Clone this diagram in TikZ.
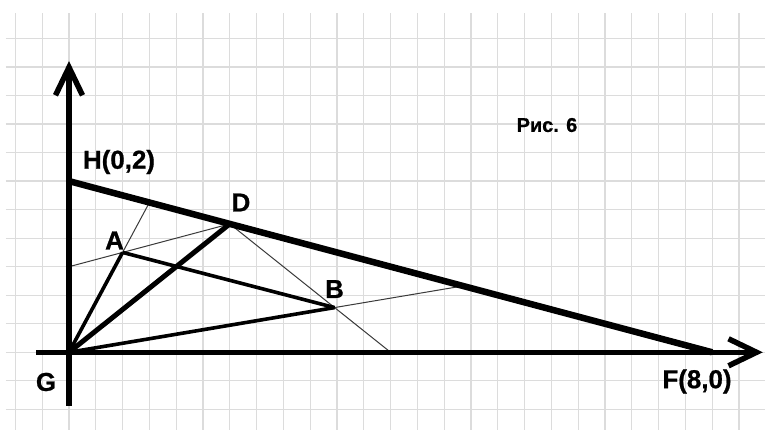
\documentclass[tikz,border=0pt]{standalone}
\usepackage{fontspec}
\setmainfont{Liberation Sans}
\newfontfamily\markfont{Liberation Sans}[BoldFeatures={FakeBold=0.8}]
\usepackage{xcolor}
\definecolor{gridgray}{HTML}{DCDCDC}
\definecolor{thinink}{HTML}{3A3A3A}
\usetikzlibrary{arrows.meta}

\begin{document}
\begin{tikzpicture}[
  x=80.4bp, y=85.6bp,
  gridline/.style={gridgray,line width=1.3bp},
  axis/.style={line width=5.5bp,-{Straight Barb[length=28bp,width=27bp]}},
  side/.style={line width=6.5bp},
  heavy/.style={line width=5bp},
  mid/.style={line width=3.6bp},
  hairline/.style={thinink,line width=1bp},
  lbl/.style={inner sep=0pt,font=\markfont\bfseries\fontsize{26}{26}\selectfont},
  figcap/.style={inner sep=0pt,font=\markfont\bfseries\fontsize{20}{20}\selectfont}
]
  \useasboundingbox (-69bp,-77.7bp) rectangle (696bp,352.3bp);
  \fill[white] (-69bp,-77.7bp) rectangle (696bp,352.3bp);

  \foreach \i in {-2,...,25}
    \draw[gridline] (\i/3,-0.91) -- (\i/3,3.964);
  \foreach \j in {-2,...,11}
    \draw[gridline] (-0.784,\j/3) -- (8.66,\j/3);

  \coordinate (G) at (0,0);
  \coordinate (H) at (0,2);
  \coordinate (F) at (8,0);
  \coordinate (D) at (2,1.5);
  \coordinate (L) at (0,1);
  \coordinate (M) at (4,0);
  \coordinate (Q) at (1,1.75);
  \coordinate (P) at (4.9,0.775);
  \coordinate (A) at (intersection of G--Q and L--D);
  \coordinate (B) at (intersection of G--P and D--M);
  \coordinate (xs) at (-0.41,0);
  \coordinate (xe) at (8.63,0);
  \coordinate (ys) at (0,-0.627);
  \coordinate (ye) at (0,3.403);

  \draw[hairline] (L) -- (D);
  \draw[hairline] (A) -- (Q);
  \draw[hairline] (D) -- (M);
  \draw[hairline] (B) -- (P);

  \draw[side] (H) -- (F);
  \draw[heavy] (G) -- (D);
  \draw[mid] (G) -- (A);
  \draw[mid] (A) -- (B);
  \draw[mid] (G) -- (B);

  \draw[axis] (xs) -- (xe);
  \draw[axis] (ys) -- (ye);

  \node[lbl] (lblH) at (0.622,2.223) {H(0,2)};
  \node[lbl] (lblD) at (2.139,1.750) {D};
  \node[lbl] (lblA) at (0.566,1.306) {A};
  \node[lbl] (lblB) at (3.302,0.739) {B};
  \node[lbl] (lblG) at (-0.286,-0.347) {G};
  \node[lbl] (lblF) at (7.811,-0.341) {F(8,0)};
  \node[figcap] (title) at (5.945,2.655) {Рис. 6};
\end{tikzpicture}
\end{document}
